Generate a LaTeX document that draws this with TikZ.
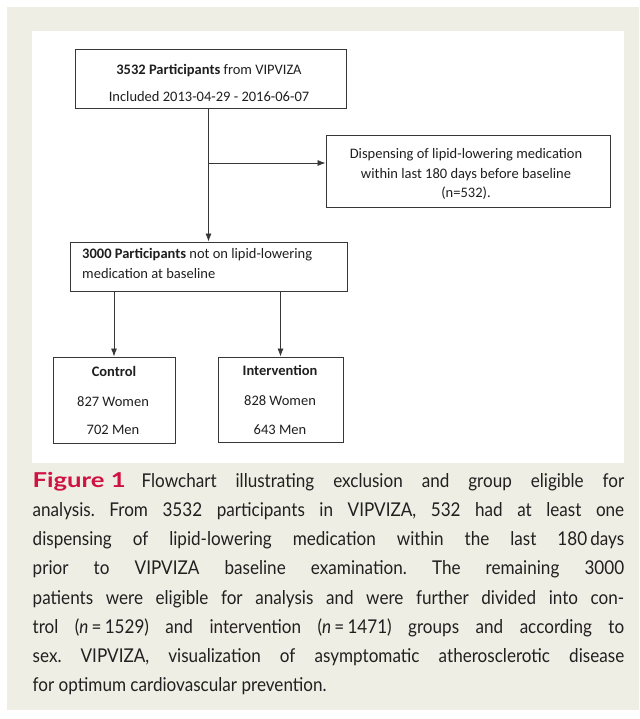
\documentclass[tikz,border=0pt]{standalone}
\usepackage{fontspec}
\setmainfont{Carlito}
\newfontfamily\diagfont{Carlito}
\newfontfamily\capfont[FakeStretch=0.9]{Lato}
\newfontfamily\figfont[FakeStretch=1.25]{Lato}
\usetikzlibrary{arrows.meta}
\definecolor{beige}{RGB}{239,238,228}
\definecolor{figred}{RGB}{207,18,66}
\definecolor{captxt}{RGB}{35,31,32}
\definecolor{boxline}{RGB}{55,55,55}
\tikzset{
  box/.style={draw=boxline, line width=0.9pt, rectangle, inner sep=0pt, fill=white},
  txt/.style={anchor=base, inner sep=0pt, font=\diagfont\fontsize{14.5}{17}\selectfont, text=black!88},
  txtl/.style={txt, anchor=base west},
  arr/.style={draw=boxline, line width=0.8pt, -{Latex[length=8pt,width=6pt]}},
  capline/.style={anchor=base west, inner sep=0pt, font=\capfont\fontsize{19}{29}\selectfont\frenchspacing, text=captxt}
}
\newcommand{\capfull}[1]{\makebox[591.5pt][s]{#1}}
\newcommand{\figlabel}{\mbox{\textcolor{figred}{\figfont\bfseries\fontsize{20.5}{29}\selectfont Figure 1}}}
\begin{document}
\begin{tikzpicture}[x=1pt,y=-1pt]
\useasboundingbox (0,0) rectangle (639,719);
\fill[white] (0,0) rectangle (639,719);
\fill[beige] (7,7) rectangle (639,710);
\fill[white] (32,31) rectangle (624,463);

% boxes
\node[box, minimum width=271pt, minimum height=59pt] (top) at (210.5,78.5) {};
\node[box, minimum width=284pt, minimum height=72pt] (ex) at (468,171) {};
\node[box, minimum width=277pt, minimum height=49pt] (b2) at (208.5,266.5) {};
\node[box, minimum width=122pt, minimum height=86pt] (ctrl) at (114,400) {};
\node[box, minimum width=125pt, minimum height=85pt] (intv) at (280.5,399.5) {};

% texts
\node[txt] (t1) at (209,75) {\textbf{3532 Participants} from VIPVIZA};
\node[txt] (t2) at (209,102) {Included 2013-04-29 - 2016-06-07};
\node[txt] (e1) at (466,159) {Dispensing of lipid-lowering medication};
\node[txt] (e2) at (466,178.5) {within last 180 days before baseline};
\node[txt] (e3) at (466,197.5) {(n=532).};
\node[txtl] (p1) at (82,258.3) {\textbf{3000 Participants} not on lipid-lowering};
\node[txtl] (p2) at (82,278.3) {medication at baseline};
\node[txt] (c1) at (114,376) {\textbf{Control}};
\node[txt] (c2) at (113,406) {827 Women};
\node[txt] (c3) at (113,434) {702 Men};
\node[txt] (i1) at (280,375) {\textbf{Intervention}};
\node[txt] (i2) at (280,405) {828 Women};
\node[txt] (i3) at (280,434) {643 Men};

% connectors
\coordinate (br) at (208.5,163);
\draw[arr] (top.south -| b2.north) -- (b2.north);
\draw[arr] (br) -- (br -| ex.west);
\draw[arr] (b2.south -| ctrl.north) -- (ctrl.north);
\draw[arr] (b2.south -| intv.north) -- (intv.north);

% caption
\node[capline] (cap1) at (32.5,487.3) {\capfull{\figlabel\hspace*{16pt}Flowchart illustrating exclusion and group eligible for}};
\node[capline] (cap2) at (32.5,516.5) {\capfull{analysis. From 3532 participants in VIPVIZA, 532 had at least one}};
\node[capline] (cap3) at (32.5,545.7) {\capfull{dispensing of lipid-lowering medication within the last 180\,days}};
\node[capline] (cap4) at (32.5,574.9) {\capfull{prior to VIPVIZA baseline examination. The remaining 3000}};
\node[capline] (cap5) at (32.5,604.1) {\capfull{patients were eligible for analysis and were further divided into con-}};
\node[capline] (cap6) at (32.5,633.3) {\capfull{trol (\textit{n}\,=\,1529) and intervention (\textit{n}\,=\,1471) groups and according to}};
\node[capline] (cap7) at (32.5,662.5) {\capfull{sex. VIPVIZA, visualization of asymptomatic atherosclerotic disease}};
\node[capline] (cap8) at (32.5,691.7) {for optimum cardiovascular prevention.};
\end{tikzpicture}
\end{document}
